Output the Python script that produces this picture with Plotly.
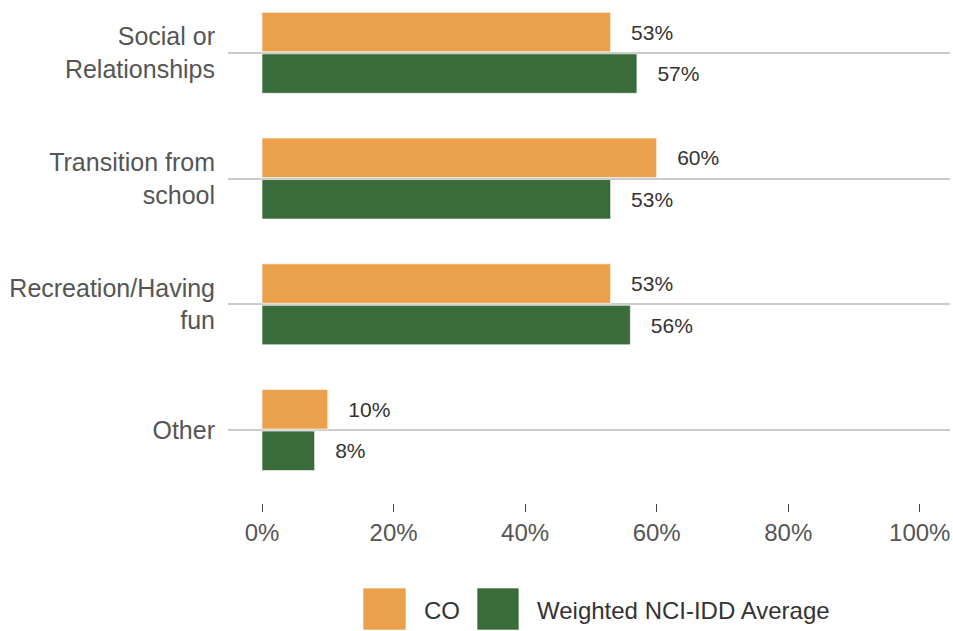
import plotly.graph_objects as go

categories = ["Social or<br>Relationships", "Transition from<br>school", "Recreation/Having<br>fun", "Other"]
co_values = [53, 60, 53, 10]
nci_values = [57, 53, 56, 8]
tick_vals = [0, 20, 40, 60, 80, 100]
tick_text = ["0%", "20%", "40%", "60%", "80%", "100%"]
series_names = ["CO", "Weighted NCI-IDD Average"]
colors = ["#EBA04C", "#3A6B3A"]

fig = go.Figure()
for name, vals, col in zip(series_names, [co_values, nci_values], colors):
    fig.add_trace(go.Bar(
        y=categories, x=vals, orientation="h", name=name,
        marker=dict(color=col, line=dict(color="rgba(255,255,255,0.6)", width=1)),
        text=["\u00a0\u00a0\u00a0" + str(v) + "%" for v in vals],
        texttemplate="%{text}", textposition="outside",
        textfont=dict(family="Liberation Sans, Arial", size=21, color="#333333"),
        cliponaxis=False, showlegend=False, hoverinfo="x+y",
    ))

fig.update_layout(
    width=953, height=631,
    margin=dict(l=228, r=3, t=0, b=128),
    paper_bgcolor="white", plot_bgcolor="white",
    barmode="group", bargap=0.34, bargroupgap=0.05,
    font=dict(family="Liberation Sans, Arial", size=25, color="#555555"),
    xaxis=dict(range=[-5.17, 104.6], tickvals=tick_vals, ticktext=tick_text,
               showgrid=False, zeroline=False, showline=False,
               ticks="outside", ticklen=8, tickcolor="#444444", tickwidth=1,
               tickfont=dict(size=24, color="#555555")),
    yaxis=dict(range=[3.58, -0.42], showgrid=True, gridcolor="#cccccc", gridwidth=1.5,
               zeroline=False, showline=False, ticks="outside", ticklen=7,
               tickcolor="rgba(0,0,0,0)", tickfont=dict(size=25, color="#555555")),
)

# manual legend with large swatches
legend_items = [
    (0.187, 0.2465, 0.2687, series_names[0], colors[0]),
    (0.3449, 0.403, 0.4252, series_names[1], colors[1]),
]
for x0, x1, tx, name, col in legend_items:
    fig.add_shape(type="rect", xref="paper", yref="paper", x0=x0, x1=x1,
                  y0=-0.2525, y1=-0.169, fillcolor=col,
                  line=dict(color="rgba(255,255,255,0.6)", width=1))
    fig.add_annotation(xref="paper", yref="paper", x=tx, y=-0.2147, text=name,
                       showarrow=False, xanchor="left", yanchor="middle",
                       font=dict(size=24, color="#333333"))

fig.write_html("out.html", config={"displayModeBar": False},
               post_script="document.body.style.margin='0';document.body.style.overflow='hidden';")
